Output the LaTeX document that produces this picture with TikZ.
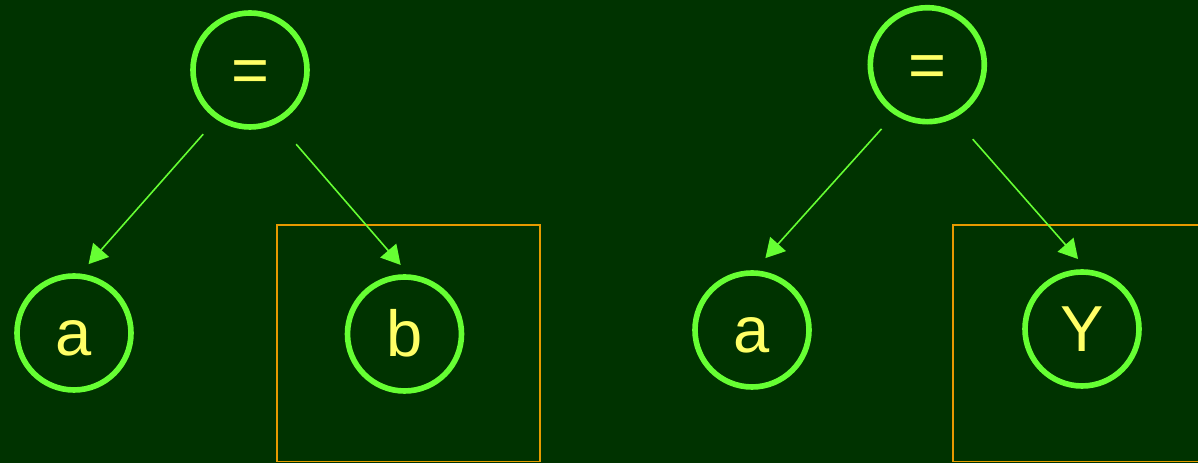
\documentclass[tikz,border=0pt]{standalone}
\usepackage{fontspec}
\setmainfont{Liberation Sans}
\usepackage{tikz}
\usepackage{tkz-berge}
\usetikzlibrary{arrows.meta,shapes}
\definecolor{bgreen}{HTML}{003300}
\definecolor{vline}{HTML}{66FF33}
\definecolor{vtext}{HTML}{FFFF66}
\definecolor{hilite}{HTML}{E69A00}
\newcommand{\linew}{1.6pt}
\newcommand{\arrw}{0.45pt}

\begin{document}
\begin{tikzpicture}
    \useasboundingbox (0,0) rectangle (11.98,-4.63);
    \clip (0,0) rectangle (11.98,-4.63);
    \fill[bgreen] (0,0) rectangle (11.98,-4.63);
    %\draw[help lines] (0,-5) grid (12,0);
        % frames round the right-hand subtrees
        \draw[hilite, line width=0.5pt] (2.77,-2.25) rectangle (5.40,-4.615);
        \draw[hilite, line width=0.5pt] (12.1,-2.25) -| (9.527,-4.615) -- (12.1,-4.615);
        \GraphInit[vstyle=Normal]
        \SetVertexNormal[Shape=circle, FillColor=bgreen, LineColor=vline, LineWidth=\linew, MinSize=1.14cm]
        \tikzset{VertexStyle/.append style = {inner sep = 0pt, outer sep = 0pt, text = vtext,
            text height = 0.45cm, text depth = 0pt, font = \fontsize{18.5}{22}\selectfont}}
        \tikzset{EdgeStyle/.style = {draw = vline, line width = \arrw, -{Triangle[length=0.19cm, width=0.21cm]}}}
        \Vertex[x=2.50,y=-0.70,L={=}]{eqL}
        \Vertex[x=0.74,y=-3.33,L={a}]{aL}
        \Vertex[x=4.045,y=-3.34,L={b}]{b}
        \Vertex[x=9.273,y=-0.647,L={=}]{eqR}
        \Vertex[x=7.52,y=-3.30,L={a}]{aR}
        \Vertex[x=10.82,y=-3.29,L={Y}]{Y}


        \draw[EdgeStyle, shorten <=0.225cm, shorten >=0.16cm] (eqL.236) -- (aL.86);
        \draw[EdgeStyle, shorten <=0.31cm, shorten >=0.165cm] (eqL.297) -- (b.83);
        \draw[EdgeStyle, shorten <=0.22cm, shorten >=0.20cm] (eqR.237) -- (aR.90);
        \draw[EdgeStyle, shorten <=0.31cm, shorten >=0.18cm] (eqR.296) -- (Y.82);


    \end{tikzpicture}
\end{document}
